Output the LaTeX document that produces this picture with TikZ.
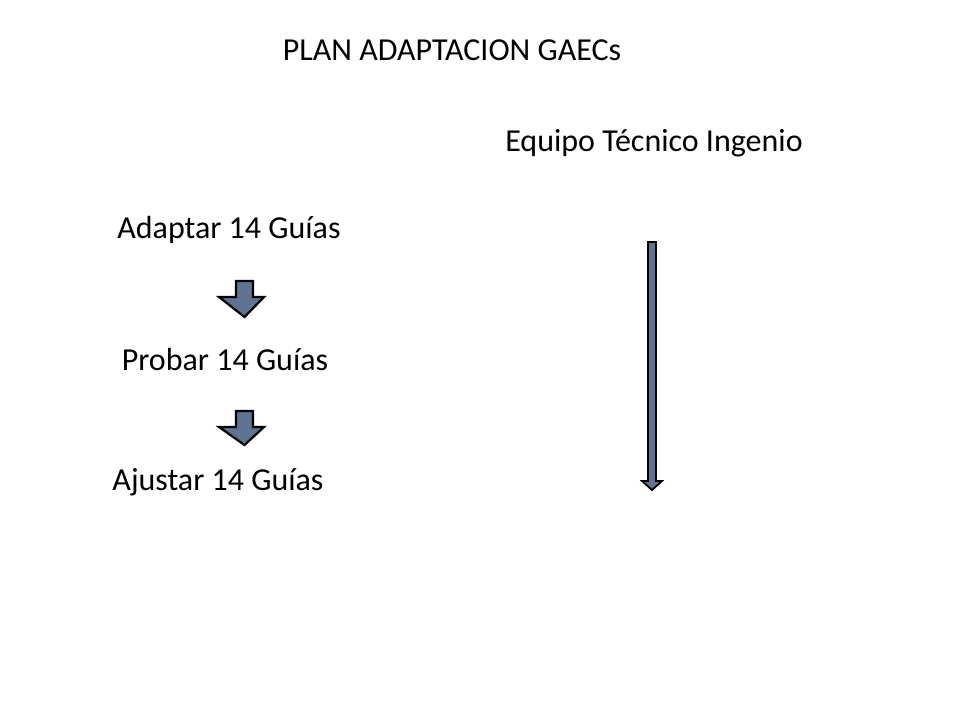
\documentclass[tikz,border=0pt]{standalone}
\usepackage{fontspec}
\setmainfont{Carlito}
\begin{document}
\begin{tikzpicture}[x=1pt,y=-1pt,
  lbl/.style={font=\fontsize{32}{38}\selectfont, inner sep=0pt, anchor=center},
  blk/.style={fill=arrowfill, draw=black, line width=2.2pt, line join=miter}]
\definecolor{arrowfill}{HTML}{5F7392}
\useasboundingbox (0,0) rectangle (960,720);
\node[lbl] (title) at (452,50) {PLAN ADAPTACION GAECs};
\node[lbl] (team) at (654,143) {Equipo Técnico Ingenio};
\node[lbl] (a) at (229,230) {Adaptar 14 Guías};
\node[lbl] (p) at (225,360) {Probar 14 Guías};
\node[lbl] (j) at (218,482) {Ajustar 14 Guías};
\draw[blk] (236,281) -- (253,281) -- (253,297) -- (264,297) -- (244.5,317) -- (219,297) -- (236,297) -- cycle;
\draw[blk] (236,411) -- (253,411) -- (253,427) -- (264,427) -- (244.5,445) -- (219,427) -- (236,427) -- cycle;
\draw[blk, line width=1.8pt] (648,242) -- (656,242) -- (656,481) -- (662,481) -- (652,490) -- (642,481) -- (648,481) -- cycle;
\end{tikzpicture}
\end{document}
